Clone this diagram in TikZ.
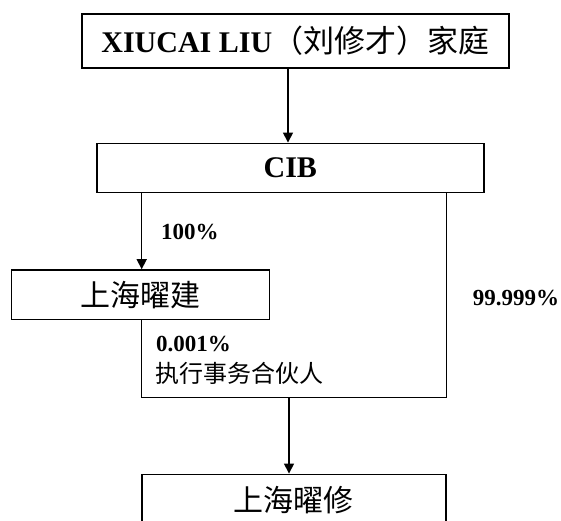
\documentclass[tikz,border=0pt]{standalone}
\usepackage{fontspec}
\setmainfont{Liberation Serif}
\newfontfamily\cjk{Noto Sans CJK SC}
\usetikzlibrary{arrows.meta}
\begin{document}
\begin{tikzpicture}[x=1pt,y=1pt,
  box/.style={draw=black,line width=1.5pt,rectangle,inner sep=0pt,anchor=center},
  conn/.style={draw=black,line width=1.5pt},
  arr/.style={conn,-{Triangle[length=10pt,width=10pt]}},
  pct/.style={inner sep=0pt,anchor=west,font=\fontsize{23}{27}\selectfont\bfseries},
  cjklab/.style={inner sep=0pt,anchor=west,font=\fontsize{24}{28}\selectfont\cjk}]
\useasboundingbox (0,0) rectangle (561,-520);
\begin{scope}
\clip (0,0) rectangle (561,-520);
\node[box,minimum width=427pt,minimum height=54pt] (fam) at (295.3,-41)
  {\fontsize{30}{34}\selectfont\bfseries XIUCAI LIU{\cjk\mdseries\fontsize{31}{34}\selectfont （刘修才）家庭}};
\node[box,minimum width=387pt,minimum height=49.4pt] (cib) at (290.3,-168)
  {\fontsize{30}{34}\selectfont\bfseries CIB};
\node[box,minimum width=257.6pt,minimum height=49.5pt] (yj) at (140.5,-294.7)
  {\fontsize{30}{34}\selectfont\cjk 上海曜建};
\node[box,minimum width=304.3pt,minimum height=52pt] (yx) at (293.9,-500.3)
  {\fontsize{30}{34}\selectfont\cjk 上海曜修};
\coordinate (merge) at (289,-397.3);
\coordinate (mergeL) at (141.7,-397.3);
\coordinate (mergeR) at (446.7,-397.3);
\draw[arr] (fam.south -| 288,0) -- (cib.north -| 288,0);
\draw[arr] (cib.south -| 141.7,0) -- (yj.north -| 141.7,0);
\draw[conn] (yj.south -| mergeL) -- (mergeL) -- (mergeR) -- (cib.south -| mergeR);
\draw[arr] (merge) -- (yx.north -| merge);
\node[pct] (p100) at (161,-231.7) {100\%};
\node[pct] (p001) at (156,-344) {0.001\%};
\node[cjklab] (gp) at (155.6,-373) {执行事务合伙人};
\node[pct] (p999) at (472.7,-298) {99.999\%};
\end{scope}
\end{tikzpicture}
\end{document}
